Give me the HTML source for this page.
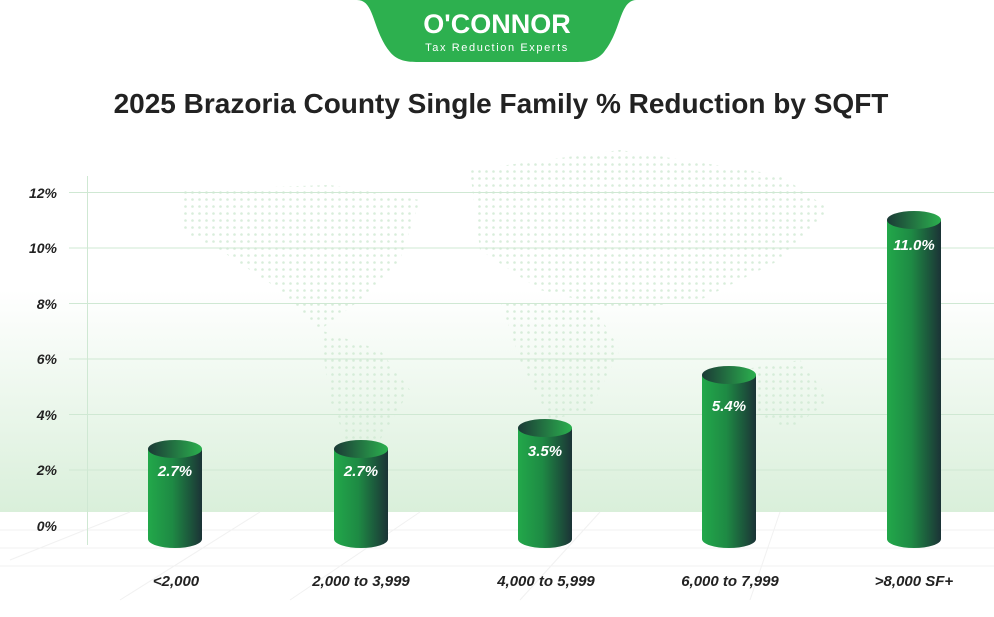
<!DOCTYPE html>
<html><head><meta charset="utf-8"><style>
html,body{margin:0;padding:0;background:#fff;}
body{width:994px;height:612px;overflow:hidden;font-family:"Liberation Sans",sans-serif;}
</style></head><body>
<svg width="994" height="612" viewBox="0 0 994 612" xmlns="http://www.w3.org/2000/svg">
<defs>
<linearGradient id="bg" x1="0" y1="0" x2="0" y2="1">
<stop offset="0" stop-color="#ffffff"/><stop offset="1" stop-color="#d9efda"/></linearGradient>
<linearGradient id="body" x1="0" y1="0" x2="1" y2="0">
<stop offset="0" stop-color="#22a84a"/><stop offset="0.45" stop-color="#1e8a44"/><stop offset="1" stop-color="#1b3336"/></linearGradient>
<linearGradient id="top" x1="0" y1="0" x2="1" y2="0">
<stop offset="0" stop-color="#1b3a36"/><stop offset="1" stop-color="#2bb04e"/></linearGradient>
<pattern id="dots" width="7" height="7" patternUnits="userSpaceOnUse">
<circle cx="3.5" cy="3.5" r="1.3" fill="#cfe9d2"/></pattern>
</defs>
<rect x="0" y="290" width="994" height="222" fill="url(#bg)"/>
<g stroke="#f1f1f1" stroke-width="1">
<line x1="0" y1="530" x2="994" y2="530"/><line x1="0" y1="548" x2="994" y2="548"/><line x1="0" y1="566" x2="994" y2="566"/>
<line x1="130" y1="512" x2="10" y2="560"/><line x1="260" y1="512" x2="120" y2="600"/><line x1="420" y1="512" x2="290" y2="600"/><line x1="600" y1="512" x2="520" y2="600"/><line x1="780" y1="512" x2="750" y2="600"/>
</g>
<g fill="url(#dots)" opacity="0.8">
<path d="M180 190 L330 185 L420 200 L400 260 L360 300 L320 330 L280 290 L220 250 L180 230 Z"/>
<path d="M320 330 L380 350 L410 390 L380 440 L350 450 L330 400 Z"/>
<path d="M470 170 L620 150 L780 175 L830 210 L780 260 L700 300 L620 310 L540 290 L480 250 Z"/>
<path d="M500 300 L590 300 L620 350 L590 410 L550 420 L520 360 Z"/>
<path d="M740 370 L800 360 L830 400 L790 430 L750 410 Z"/>
</g>
<g stroke="#cfe8d3" stroke-width="1">
<line x1="69" y1="192.5" x2="994" y2="192.5"/><line x1="69" y1="248" x2="994" y2="248"/>
<line x1="69" y1="303.5" x2="994" y2="303.5"/><line x1="69" y1="359" x2="994" y2="359"/>
<line x1="69" y1="414.5" x2="994" y2="414.5"/><line x1="69" y1="470" x2="994" y2="470"/>
<line x1="87.5" y1="176" x2="87.5" y2="545"/>
</g>
<g font-size="14" font-weight="bold" font-style="italic" fill="#222" text-anchor="end">
<text x="57" y="198">12%</text><text x="57" y="253">10%</text><text x="57" y="309">8%</text>
<text x="57" y="364">6%</text><text x="57" y="420">4%</text><text x="57" y="475">2%</text><text x="57" y="531">0%</text>
</g>
<path d="M357 0 C375 0 372 30 390 52 C398 62 410 62 420 62 L574 62 C584 62 596 62 604 52 C622 30 619 0 637 0 Z" fill="#2db04f"/>
<text x="497" y="33" font-size="27" font-weight="bold" fill="#fff" text-anchor="middle">O'CONNOR</text>
<text x="497" y="51" font-size="11" fill="#fff" text-anchor="middle" letter-spacing="1.6">Tax Reduction Experts</text>
<text x="501" y="113" font-size="28" font-weight="bold" fill="#222" text-anchor="middle">2025 Brazoria County Single Family % Reduction by SQFT</text>
<g>
<g><rect x="148" y="449" width="54" height="90" fill="url(#body)"/><ellipse cx="175" cy="539" rx="27" ry="9" fill="url(#body)"/><ellipse cx="175" cy="449" rx="27" ry="9" fill="url(#top)"/></g>
<g><rect x="334" y="449" width="54" height="90" fill="url(#body)"/><ellipse cx="361" cy="539" rx="27" ry="9" fill="url(#body)"/><ellipse cx="361" cy="449" rx="27" ry="9" fill="url(#top)"/></g>
<g><rect x="518" y="428" width="54" height="111" fill="url(#body)"/><ellipse cx="545" cy="539" rx="27" ry="9" fill="url(#body)"/><ellipse cx="545" cy="428" rx="27" ry="9" fill="url(#top)"/></g>
<g><rect x="702" y="375" width="54" height="164" fill="url(#body)"/><ellipse cx="729" cy="539" rx="27" ry="9" fill="url(#body)"/><ellipse cx="729" cy="375" rx="27" ry="9" fill="url(#top)"/></g>
<g><rect x="887" y="220" width="54" height="319" fill="url(#body)"/><ellipse cx="914" cy="539" rx="27" ry="9" fill="url(#body)"/><ellipse cx="914" cy="220" rx="27" ry="9" fill="url(#top)"/></g>
</g>
<g font-size="15" font-weight="bold" font-style="italic" fill="#fff" text-anchor="middle">
<text x="175" y="476">2.7%</text><text x="361" y="476">2.7%</text><text x="545" y="456">3.5%</text>
<text x="729" y="411">5.4%</text><text x="914" y="250">11.0%</text>
</g>
<g font-size="15" font-weight="bold" font-style="italic" fill="#222" text-anchor="middle">
<text x="176" y="586">&lt;2,000</text><text x="361" y="586">2,000 to 3,999</text><text x="546" y="586">4,000 to 5,999</text>
<text x="730" y="586">6,000 to 7,999</text><text x="914" y="586">&gt;8,000 SF+</text>
</g>
</svg>
</body></html>
